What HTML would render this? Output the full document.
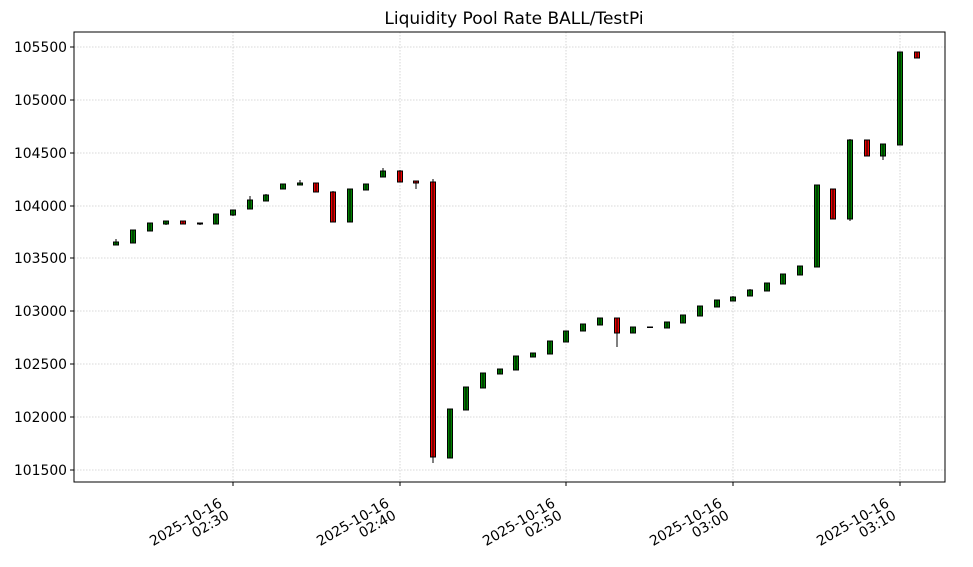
<!DOCTYPE html>
<html><head><meta charset="utf-8"><style>body{margin:0;background:#fff}svg{display:block}text{font-family:"DejaVu Sans","Liberation Sans",sans-serif;fill:#000}</style></head><body>
<svg width="973" height="567" viewBox="0 0 973 567" xmlns="http://www.w3.org/2000/svg">
<rect width="973" height="567" fill="#fff"/>
<text x="514" y="24" font-size="17" text-anchor="middle">Liquidity Pool Rate  BALL/TestPi</text>
<g stroke="#ccc" stroke-width="0.8" stroke-dasharray="1.5,1.5">
<line x1="74" x2="945" y1="47" y2="47"/><line x1="74" x2="945" y1="100" y2="100"/><line x1="74" x2="945" y1="153" y2="153"/><line x1="74" x2="945" y1="206" y2="206"/><line x1="74" x2="945" y1="258" y2="258"/><line x1="74" x2="945" y1="311" y2="311"/><line x1="74" x2="945" y1="364" y2="364"/><line x1="74" x2="945" y1="417" y2="417"/><line x1="74" x2="945" y1="470" y2="470"/>
<line y1="32" y2="482" x1="233" x2="233"/><line y1="32" y2="482" x1="400" x2="400"/><line y1="32" y2="482" x1="566" x2="566"/><line y1="32" y2="482" x1="733" x2="733"/><line y1="32" y2="482" x1="900" x2="900"/>
</g>
<g font-size="13.9" text-anchor="end">
<text x="67" y="52">105500</text><text x="67" y="105">105000</text><text x="67" y="158">104500</text><text x="67" y="211">104000</text><text x="67" y="263">103500</text><text x="67" y="316">103000</text><text x="67" y="369">102500</text><text x="67" y="422">102000</text><text x="67" y="475">101500</text>
</g>
<g stroke="#000">
<line x1="70" x2="74" y1="47" y2="47"/><line x1="70" x2="74" y1="100" y2="100"/><line x1="70" x2="74" y1="153" y2="153"/><line x1="70" x2="74" y1="206" y2="206"/><line x1="70" x2="74" y1="258" y2="258"/><line x1="70" x2="74" y1="311" y2="311"/><line x1="70" x2="74" y1="364" y2="364"/><line x1="70" x2="74" y1="417" y2="417"/><line x1="70" x2="74" y1="470" y2="470"/>
<line y1="482" y2="486" x1="233" x2="233"/><line y1="482" y2="486" x1="400" x2="400"/><line y1="482" y2="486" x1="566" x2="566"/><line y1="482" y2="486" x1="733" x2="733"/><line y1="482" y2="486" x1="900" x2="900"/>
</g>
<g font-size="13.9" text-anchor="end">
<g transform="translate(230,518) rotate(-30)"><text x="0" y="-14">2025-10-16</text><text x="0" y="0">02:30</text></g>
<g transform="translate(397,518) rotate(-30)"><text x="0" y="-14">2025-10-16</text><text x="0" y="0">02:40</text></g>
<g transform="translate(563,518) rotate(-30)"><text x="0" y="-14">2025-10-16</text><text x="0" y="0">02:50</text></g>
<g transform="translate(730,518) rotate(-30)"><text x="0" y="-14">2025-10-16</text><text x="0" y="0">03:00</text></g>
<g transform="translate(897,518) rotate(-30)"><text x="0" y="-14">2025-10-16</text><text x="0" y="0">03:10</text></g>
</g>
<g stroke="#000" stroke-width="1">
<rect x="113.5" y="242" width="5" height="3" fill="#008000"/><line x1="116" x2="116" y1="239" y2="245"/>
<rect x="130.5" y="230" width="5" height="13" fill="#008000"/><line x1="133" x2="133" y1="230" y2="243"/>
<rect x="147.5" y="223" width="5" height="8" fill="#008000"/><line x1="150" x2="150" y1="223" y2="231"/>
<rect x="163.5" y="221" width="5" height="3" fill="#008000"/><line x1="166" x2="166" y1="221" y2="225"/>
<rect x="180.5" y="221" width="5" height="3" fill="#e00"/><line x1="183" x2="183" y1="221" y2="224"/>
<rect x="197.5" y="223" width="5" height="1" fill="#008000"/><line x1="200" x2="200" y1="223" y2="225"/>
<rect x="213.5" y="214" width="5" height="10" fill="#008000"/><line x1="216" x2="216" y1="214" y2="224"/>
<rect x="230.5" y="210" width="5" height="5" fill="#008000"/><line x1="233" x2="233" y1="210" y2="216"/>
<rect x="247.5" y="200" width="5" height="9" fill="#008000"/><line x1="250" x2="250" y1="196" y2="209"/>
<rect x="263.5" y="195" width="5" height="6" fill="#008000"/><line x1="266" x2="266" y1="194" y2="201"/>
<rect x="280.5" y="184" width="5" height="5" fill="#008000"/><line x1="283" x2="283" y1="184" y2="189"/>
<rect x="297.5" y="183" width="5" height="2" fill="#008000"/><line x1="300" x2="300" y1="180" y2="185"/>
<rect x="313.5" y="183" width="5" height="9" fill="#e00"/><line x1="316" x2="316" y1="183" y2="192"/>
<rect x="330.5" y="192" width="5" height="30" fill="#e00"/><line x1="333" x2="333" y1="191" y2="222"/>
<rect x="347.5" y="189" width="5" height="33" fill="#008000"/><line x1="350" x2="350" y1="189" y2="222"/>
<rect x="363.5" y="184" width="5" height="6" fill="#008000"/><line x1="366" x2="366" y1="184" y2="190"/>
<rect x="380.5" y="171" width="5" height="6" fill="#008000"/><line x1="383" x2="383" y1="168" y2="177"/>
<rect x="397.5" y="171" width="5" height="11" fill="#e00"/><line x1="400" x2="400" y1="170" y2="182"/>
<rect x="413.5" y="181" width="5" height="2" fill="#e00"/><line x1="416" x2="416" y1="181" y2="189"/>
<rect x="430.5" y="182" width="5" height="275" fill="#e00"/><line x1="433" x2="433" y1="179" y2="463"/>
<rect x="447.5" y="409" width="5" height="49" fill="#008000"/><line x1="450" x2="450" y1="409" y2="458"/>
<rect x="463.5" y="387" width="5" height="23" fill="#008000"/><line x1="466" x2="466" y1="387" y2="410"/>
<rect x="480.5" y="373" width="5" height="15" fill="#008000"/><line x1="483" x2="483" y1="373" y2="388"/>
<rect x="497.5" y="369" width="5" height="5" fill="#008000"/><line x1="500" x2="500" y1="369" y2="374"/>
<rect x="513.5" y="356" width="5" height="14" fill="#008000"/><line x1="516" x2="516" y1="356" y2="370"/>
<rect x="530.5" y="353" width="5" height="4" fill="#008000"/><line x1="533" x2="533" y1="353" y2="357"/>
<rect x="547.5" y="341" width="5" height="13" fill="#008000"/><line x1="550" x2="550" y1="341" y2="354"/>
<rect x="563.5" y="331" width="5" height="11" fill="#008000"/><line x1="566" x2="566" y1="331" y2="342"/>
<rect x="580.5" y="324" width="5" height="7" fill="#008000"/><line x1="583" x2="583" y1="324" y2="331"/>
<rect x="597.5" y="318" width="5" height="7" fill="#008000"/><line x1="600" x2="600" y1="318" y2="325"/>
<rect x="614.5" y="318" width="5" height="15" fill="#e00"/><line x1="617" x2="617" y1="318" y2="347"/>
<rect x="630.5" y="327" width="5" height="6" fill="#008000"/><line x1="633" x2="633" y1="327" y2="333"/>
<rect x="647.5" y="327" width="5" height="0.5" fill="#008000"/><line x1="650" x2="650" y1="327" y2="328"/>
<rect x="664.5" y="322" width="5" height="6" fill="#008000"/><line x1="667" x2="667" y1="322" y2="328"/>
<rect x="680.5" y="315" width="5" height="8" fill="#008000"/><line x1="683" x2="683" y1="315" y2="323"/>
<rect x="697.5" y="306" width="5" height="10" fill="#008000"/><line x1="700" x2="700" y1="306" y2="316"/>
<rect x="714.5" y="300" width="5" height="7" fill="#008000"/><line x1="717" x2="717" y1="300" y2="307"/>
<rect x="730.5" y="297" width="5" height="4" fill="#008000"/><line x1="733" x2="733" y1="296" y2="301"/>
<rect x="747.5" y="290" width="5" height="6" fill="#008000"/><line x1="750" x2="750" y1="289" y2="296"/>
<rect x="764.5" y="283" width="5" height="8" fill="#008000"/><line x1="767" x2="767" y1="283" y2="291"/>
<rect x="780.5" y="274" width="5" height="10" fill="#008000"/><line x1="783" x2="783" y1="274" y2="284"/>
<rect x="797.5" y="266" width="5" height="9" fill="#008000"/><line x1="800" x2="800" y1="266" y2="275"/>
<rect x="814.5" y="185" width="5" height="82" fill="#008000"/><line x1="817" x2="817" y1="185" y2="267"/>
<rect x="830.5" y="189" width="5" height="30" fill="#e00"/><line x1="833" x2="833" y1="189" y2="219"/>
<rect x="847.5" y="140" width="5" height="79" fill="#008000"/><line x1="850" x2="850" y1="139" y2="221"/>
<rect x="864.5" y="140" width="5" height="16" fill="#e00"/><line x1="867" x2="867" y1="140" y2="156"/>
<rect x="880.5" y="144" width="5" height="12" fill="#008000"/><line x1="883" x2="883" y1="144" y2="160"/>
<rect x="897.5" y="52" width="5" height="93" fill="#008000"/><line x1="900" x2="900" y1="52" y2="145"/>
<rect x="914.5" y="52" width="5" height="6" fill="#e00"/><line x1="917" x2="917" y1="52" y2="58"/>
</g>
<rect x="74" y="32" width="871" height="450" fill="none" stroke="#000" stroke-width="1"/>
</svg>
</body></html>
